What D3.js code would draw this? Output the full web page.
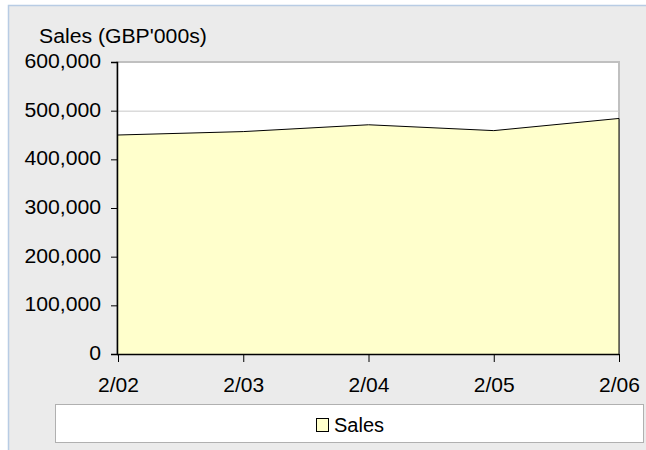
<!DOCTYPE html>
<html><head><meta charset="utf-8">
<script src="https://cdn.jsdelivr.net/npm/d3@7"></script>
<style>
html,body{margin:0;padding:0;background:#fff;}
svg{display:block;font-family:"Liberation Sans",Arial,sans-serif;}
</style></head>
<body>
<svg id="chart" width="646" height="450"></svg>
<script>
const categories = ["2/02","2/03","2/04","2/05","2/06"];
const salesValues = [450000, 457000, 471000, 459000, 484000];
const yTicks = [0,100000,200000,300000,400000,500000,600000];
const seriesName = "Sales";
const yTitle = "Sales (GBP'000s)";

(function(){
const svg = d3.select("#chart");
function stretch(sel, f){
  sel.each(function(){
    const w = this.getComputedTextLength();
    d3.select(this).attr("textLength", w*f).attr("lengthAdjust","spacingAndGlyphs");
  });
}
// outer frame
svg.append("rect").attr("x",8.5).attr("y",5.5).attr("width",660).attr("height",460)
  .attr("fill","#ebebeb").attr("stroke","#b8cce4").attr("stroke-width",1.5);

const pL=117, pR=619, pT=62, pB=354;
const x = d3.scalePoint().domain(categories).range([pL+1,pR]);
const y = d3.scaleLinear().domain([0,600000]).range([pB,pT]);

// plot area
svg.append("rect").attr("x",pL).attr("y",pT).attr("width",pR-pL).attr("height",pB-pT)
  .attr("fill","#fff").attr("stroke","#c0c0c0").attr("stroke-width",2);

// gridlines
svg.append("g").selectAll("line").data(yTicks.filter(d=>d>0&&d<600000)).join("line")
  .attr("x1",pL).attr("x2",pR).attr("y1",d=>y(d)+0.5).attr("y2",d=>y(d)+0.5)
  .attr("stroke","#c8c8c8").attr("stroke-width",1);

// area
const area = d3.area().x((d,i)=>x(categories[i])).y0(pB).y1(d=>y(d));
const line = d3.line().x((d,i)=>x(categories[i])).y(d=>y(d));
svg.append("path").datum(salesValues).attr("d",area).attr("fill","#ffffcc");
svg.append("path").datum(salesValues).attr("d",line).attr("fill","none").attr("stroke","#000").attr("stroke-width",1);
const lastX = x(categories[categories.length-1]);
svg.append("line").attr("x1",lastX).attr("x2",lastX)
  .attr("y1",y(salesValues[salesValues.length-1])).attr("y2",pB).attr("stroke","#000").attr("stroke-width",1);

// y axis
const yAxis = d3.axisLeft(y).tickValues(yTicks).tickSize(6).tickPadding(10)
  .tickFormat(d3.format(","));
const gy = svg.append("g").attr("transform",`translate(${pL},0)`).call(yAxis);
gy.select(".domain").attr("stroke","#000").attr("stroke-width",1.5);
gy.selectAll(".tick line").attr("stroke","#000");
gy.selectAll("text").attr("font-size",20).attr("fill","#000")
  .attr("font-family","Liberation Sans, Arial, sans-serif").attr("dy","0.28em");
stretch(gy.selectAll("text"), 1.06);

// x axis
const xAxis = d3.axisBottom(x).tickSize(8).tickPadding(15);
const gx = svg.append("g").attr("transform",`translate(0,${pB})`).call(xAxis);
gx.select(".domain").attr("d",`M${pL},0.5H${pR}`).attr("stroke","#000").attr("stroke-width",1.5);
gx.selectAll(".tick line").attr("stroke","#000");
gx.selectAll("text").attr("font-size",21).attr("fill","#000")
  .attr("font-family","Liberation Sans, Arial, sans-serif");

// y title
const t = svg.append("text").attr("x",39).attr("y",43).attr("font-size",20).attr("fill","#000").text(yTitle);
stretch(t, 1.06);

// legend
svg.append("rect").attr("x",55.5).attr("y",404.5).attr("width",588).attr("height",38)
  .attr("fill","#fff").attr("stroke","#b0b0b0").attr("stroke-width",1);
const lg = svg.append("g");
lg.append("rect").attr("x",316.5).attr("y",418.5).attr("width",12).attr("height",13)
  .attr("fill","#ffffcc").attr("stroke","#000").attr("stroke-width",1);
lg.append("text").attr("x",334).attr("y",432).attr("font-size",20).attr("fill","#000").text(seriesName);
})();
</script>
</body></html>
